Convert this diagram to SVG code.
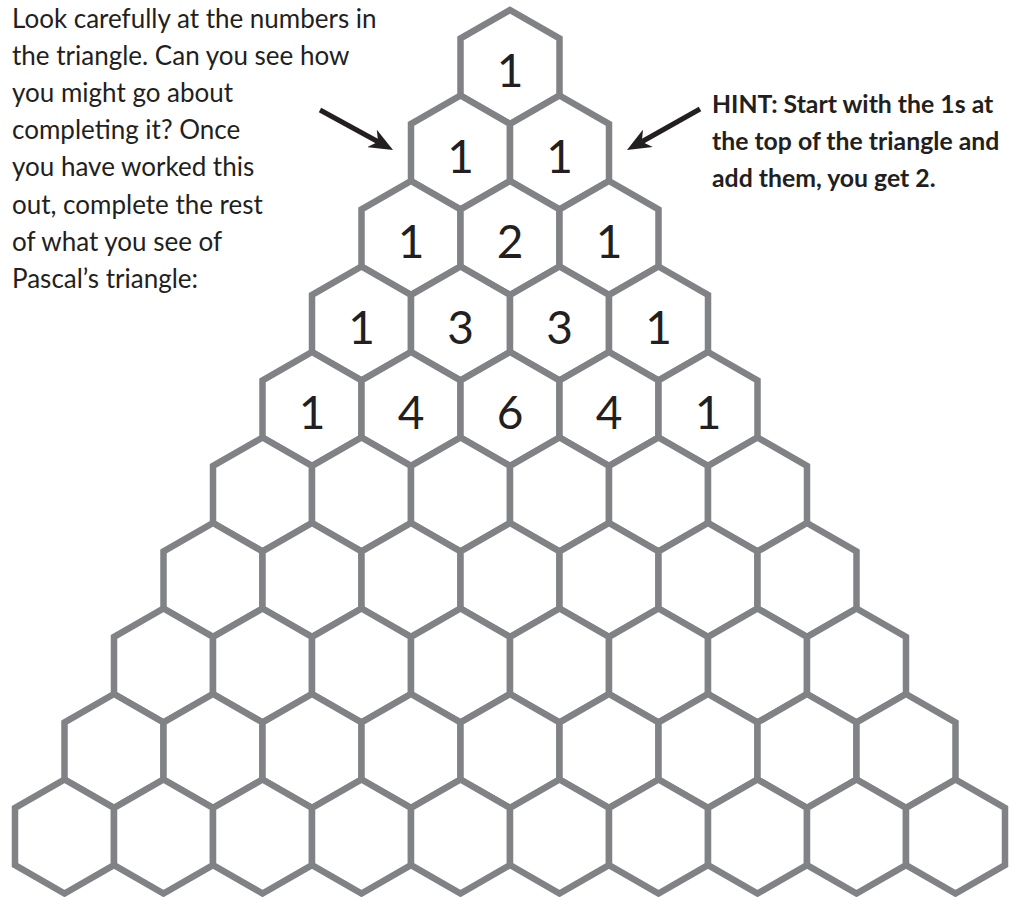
<svg xmlns="http://www.w3.org/2000/svg" xmlns:xlink="http://www.w3.org/1999/xlink" width="1013" height="897" viewBox="0 0 1013 897">
<style>
.hex{fill:#ffffff;stroke:#808285;stroke-width:6.5;stroke-linejoin:miter}
.num{font-family:Lato,"Open Sans","Liberation Sans",sans-serif;font-size:46px;fill:#231f20;text-anchor:middle}
.body{font-family:Lato,"Open Sans","Liberation Sans",sans-serif;font-size:26px;fill:#231f20}
.hint{font-family:Lato,"Open Sans","Liberation Sans",sans-serif;font-size:24.8px;font-weight:bold;fill:#231f20}
.arr{stroke:#231f20;stroke-width:5;fill:none;marker-end:url(#ah)}
</style>
<defs>
<polygon id="hex" points="0,-57 49.5,-28.5 49.5,28.5 0,57 -49.5,28.5 -49.5,-28.5"/>
<marker id="ah" markerUnits="userSpaceOnUse" viewBox="0 0 24 20" refX="7" refY="10" markerWidth="24" markerHeight="20" orient="auto">
<path d="M0,0 L24,10 L0,20 L7,10 Z" fill="#231f20"/>
</marker>
</defs>
<rect width="1013" height="897" fill="#ffffff"/>
<g id="intro" class="body">
<text x="12" y="27.5">Look carefully at the numbers in</text>
<text x="12" y="64.7">the triangle. Can you see how</text>
<text x="12" y="101.9">you might go about</text>
<text x="12" y="139.1">completing it? Once</text>
<text x="12" y="176.3">you have worked this</text>
<text x="12" y="213.5">out, complete the rest</text>
<text x="12" y="250.7">of what you see of</text>
<text x="12" y="287.9">Pascal’s triangle:</text>
</g>
<g id="hint-text" class="hint">
<text x="712" y="113">HINT: Start with the 1s at</text>
<text x="712" y="150">the top of the triangle and</text>
<text x="712" y="187">add them, you get 2.</text>
</g>
<g id="r0c0" transform="translate(510,67)"><use href="#hex" class="hex"/><text class="num" y="20">1</text></g>
<g id="r1c0" transform="translate(460.5,152.5)"><use href="#hex" class="hex"/><text class="num" y="20">1</text></g>
<g id="r1c1" transform="translate(559.5,152.5)"><use href="#hex" class="hex"/><text class="num" y="20">1</text></g>
<g id="r2c0" transform="translate(411,238)"><use href="#hex" class="hex"/><text class="num" y="20">1</text></g>
<g id="r2c1" transform="translate(510,238)"><use href="#hex" class="hex"/><text class="num" y="20">2</text></g>
<g id="r2c2" transform="translate(609,238)"><use href="#hex" class="hex"/><text class="num" y="20">1</text></g>
<g id="r3c0" transform="translate(361.5,323.5)"><use href="#hex" class="hex"/><text class="num" y="20">1</text></g>
<g id="r3c1" transform="translate(460.5,323.5)"><use href="#hex" class="hex"/><text class="num" y="20">3</text></g>
<g id="r3c2" transform="translate(559.5,323.5)"><use href="#hex" class="hex"/><text class="num" y="20">3</text></g>
<g id="r3c3" transform="translate(658.5,323.5)"><use href="#hex" class="hex"/><text class="num" y="20">1</text></g>
<g id="r4c0" transform="translate(312,409)"><use href="#hex" class="hex"/><text class="num" y="20">1</text></g>
<g id="r4c1" transform="translate(411,409)"><use href="#hex" class="hex"/><text class="num" y="20">4</text></g>
<g id="r4c2" transform="translate(510,409)"><use href="#hex" class="hex"/><text class="num" y="20">6</text></g>
<g id="r4c3" transform="translate(609,409)"><use href="#hex" class="hex"/><text class="num" y="20">4</text></g>
<g id="r4c4" transform="translate(708,409)"><use href="#hex" class="hex"/><text class="num" y="20">1</text></g>
<g id="r5c0" transform="translate(262.5,494.5)"><use href="#hex" class="hex"/></g>
<g id="r5c1" transform="translate(361.5,494.5)"><use href="#hex" class="hex"/></g>
<g id="r5c2" transform="translate(460.5,494.5)"><use href="#hex" class="hex"/></g>
<g id="r5c3" transform="translate(559.5,494.5)"><use href="#hex" class="hex"/></g>
<g id="r5c4" transform="translate(658.5,494.5)"><use href="#hex" class="hex"/></g>
<g id="r5c5" transform="translate(757.5,494.5)"><use href="#hex" class="hex"/></g>
<g id="r6c0" transform="translate(213,580)"><use href="#hex" class="hex"/></g>
<g id="r6c1" transform="translate(312,580)"><use href="#hex" class="hex"/></g>
<g id="r6c2" transform="translate(411,580)"><use href="#hex" class="hex"/></g>
<g id="r6c3" transform="translate(510,580)"><use href="#hex" class="hex"/></g>
<g id="r6c4" transform="translate(609,580)"><use href="#hex" class="hex"/></g>
<g id="r6c5" transform="translate(708,580)"><use href="#hex" class="hex"/></g>
<g id="r6c6" transform="translate(807,580)"><use href="#hex" class="hex"/></g>
<g id="r7c0" transform="translate(163.5,665.5)"><use href="#hex" class="hex"/></g>
<g id="r7c1" transform="translate(262.5,665.5)"><use href="#hex" class="hex"/></g>
<g id="r7c2" transform="translate(361.5,665.5)"><use href="#hex" class="hex"/></g>
<g id="r7c3" transform="translate(460.5,665.5)"><use href="#hex" class="hex"/></g>
<g id="r7c4" transform="translate(559.5,665.5)"><use href="#hex" class="hex"/></g>
<g id="r7c5" transform="translate(658.5,665.5)"><use href="#hex" class="hex"/></g>
<g id="r7c6" transform="translate(757.5,665.5)"><use href="#hex" class="hex"/></g>
<g id="r7c7" transform="translate(856.5,665.5)"><use href="#hex" class="hex"/></g>
<g id="r8c0" transform="translate(114,751)"><use href="#hex" class="hex"/></g>
<g id="r8c1" transform="translate(213,751)"><use href="#hex" class="hex"/></g>
<g id="r8c2" transform="translate(312,751)"><use href="#hex" class="hex"/></g>
<g id="r8c3" transform="translate(411,751)"><use href="#hex" class="hex"/></g>
<g id="r8c4" transform="translate(510,751)"><use href="#hex" class="hex"/></g>
<g id="r8c5" transform="translate(609,751)"><use href="#hex" class="hex"/></g>
<g id="r8c6" transform="translate(708,751)"><use href="#hex" class="hex"/></g>
<g id="r8c7" transform="translate(807,751)"><use href="#hex" class="hex"/></g>
<g id="r8c8" transform="translate(906,751)"><use href="#hex" class="hex"/></g>
<g id="r9c0" transform="translate(64.5,836.5)"><use href="#hex" class="hex"/></g>
<g id="r9c1" transform="translate(163.5,836.5)"><use href="#hex" class="hex"/></g>
<g id="r9c2" transform="translate(262.5,836.5)"><use href="#hex" class="hex"/></g>
<g id="r9c3" transform="translate(361.5,836.5)"><use href="#hex" class="hex"/></g>
<g id="r9c4" transform="translate(460.5,836.5)"><use href="#hex" class="hex"/></g>
<g id="r9c5" transform="translate(559.5,836.5)"><use href="#hex" class="hex"/></g>
<g id="r9c6" transform="translate(658.5,836.5)"><use href="#hex" class="hex"/></g>
<g id="r9c7" transform="translate(757.5,836.5)"><use href="#hex" class="hex"/></g>
<g id="r9c8" transform="translate(856.5,836.5)"><use href="#hex" class="hex"/></g>
<g id="r9c9" transform="translate(955.5,836.5)"><use href="#hex" class="hex"/></g>
<g id="connectors">
<path class="arr" d="M320,110 L378.1,141.8"/>
<path class="arr" d="M700,109 L641.8,141.7"/>
</g>
</svg>
